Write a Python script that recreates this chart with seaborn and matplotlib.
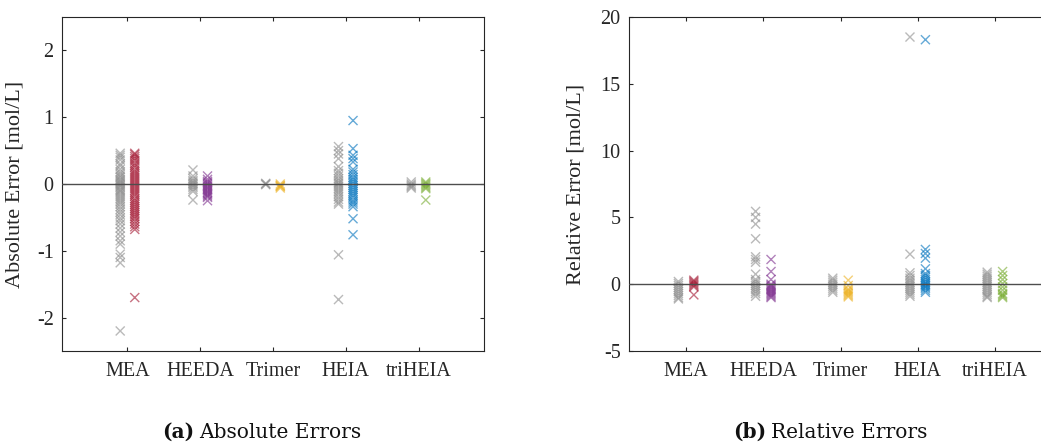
import matplotlib
matplotlib.use("Agg")
import matplotlib.pyplot as plt
import seaborn as sns
import pandas as pd

categories = ["MEA", "HEEDA", "Trimer", "HEIA", "triHEIA"]
model_colors = ["#A2142F", "#7E2F8E", "#EDB120", "#0072BD", "#77AC30"]
ref_color = "#8C8C8C"

# ---- (a) Absolute errors ----
abs_ref_MEA = [0.46, 0.43, 0.40, 0.36, 0.30, 0.27, 0.22, 0.18, 0.15, 0.12, 0.10, 0.07, 0.05, 0.03,
               0.01, -0.01, -0.03, -0.05, -0.08, -0.10, -0.12, -0.15, -0.18, -0.21, -0.24, -0.27,
               -0.30, -0.34, -0.38, -0.42, -0.46, -0.51, -0.55, -0.60, -0.66, -0.72, -0.78, -0.85,
               -0.90, -1.05, -1.10, -1.18, -2.20]
abs_mod_MEA = [0.46, 0.44, 0.41, 0.38, 0.35, 0.31, 0.28, 0.25, 0.21, 0.18, 0.15, 0.12, 0.09, 0.06,
               0.03, 0.0, -0.03, -0.06, -0.09, -0.12, -0.15, -0.18, -0.22, -0.25, -0.28, -0.31,
               -0.34, -0.37, -0.40, -0.43, -0.46, -0.49, -0.52, -0.56, -0.60, -0.64, -0.68, -1.70]
abs_ref_HEEDA = [0.21, 0.12, 0.08, 0.05, 0.03, 0.01, -0.01, -0.03, -0.05, -0.08, -0.11, -0.24]
abs_mod_HEEDA = [0.12, 0.07, 0.04, 0.02, 0.0, -0.02, -0.04, -0.06, -0.08, -0.10, -0.12, -0.14,
                 -0.16, -0.18, -0.20, -0.25]
abs_ref_Trimer = [0.0, 0.01, -0.01]
abs_mod_Trimer = [0.0, -0.02, -0.04, -0.06, -0.03]
abs_ref_HEIA = [0.56, 0.50, 0.45, 0.38, 0.26, 0.20, 0.16, 0.12, 0.08, 0.05, 0.02, 0.0, -0.03,
                -0.06, -0.09, -0.12, -0.15, -0.19, -0.23, -0.27, -0.30, -1.06, -1.73]
abs_mod_HEIA = [0.95, 0.53, 0.43, 0.38, 0.33, 0.22, 0.18, 0.14, 0.10, 0.07, 0.04, 0.01, -0.02,
                -0.05, -0.08, -0.11, -0.14, -0.17, -0.20, -0.24, -0.27, -0.30, -0.34, -0.52, -0.76]
abs_ref_triHEIA = [0.03, 0.0, -0.02, -0.04, -0.06]
abs_mod_triHEIA = [0.03, 0.01, -0.01, -0.03, -0.05, -0.07, -0.24]

# ---- (b) Relative errors ----
rel_ref_MEA = [0.2, 0.05, -0.1, -0.25, -0.4, -0.55, -0.7, -0.85, -1.0, -1.1]
rel_mod_MEA = [0.3, 0.2, 0.1, 0.0, -0.1, -0.2, -0.8]
rel_ref_HEEDA = [5.45, 5.0, 4.5, 3.4, 2.05, 1.85, 1.65, 0.75, 0.35, 0.2, 0.05, -0.1, -0.25, -0.4,
                 -0.55, -0.7, -0.9]
rel_mod_HEEDA = [1.85, 0.95, 0.35, 0.0, -0.1, -0.2, -0.3, -0.4, -0.5, -0.6, -0.7, -0.8, -0.9, -1.0]
rel_ref_Trimer = [0.45, 0.3, 0.15, 0.0, -0.15, -0.3, -0.45, -0.6]
rel_mod_Trimer = [0.3, -0.1, -0.35, -0.45, -0.55, -0.65, -0.75, -0.85, -0.95]
rel_ref_HEIA = [18.5, 2.25, 0.85, 0.65, 0.45, 0.3, 0.15, 0.0, -0.15, -0.3, -0.45, -0.6, -0.75, -0.9]
rel_mod_HEIA = [18.3, 2.6, 2.3, 1.95, 1.15, 0.8, 0.65, 0.5, 0.35, 0.2, 0.1, 0.0, -0.1, -0.2, -0.3,
                -0.45, -0.6]
rel_ref_triHEIA = [0.9, 0.75, 0.6, 0.45, 0.3, 0.15, 0.0, -0.15, -0.3, -0.45, -0.6, -0.75, -0.9, -1.0]
rel_mod_triHEIA = [0.95, 0.65, 0.35, 0.05, -0.2, -0.45, -0.7, -0.8, -0.9, -1.0]

abs_ref = [abs_ref_MEA, abs_ref_HEEDA, abs_ref_Trimer, abs_ref_HEIA, abs_ref_triHEIA]
abs_mod = [abs_mod_MEA, abs_mod_HEEDA, abs_mod_Trimer, abs_mod_HEIA, abs_mod_triHEIA]
rel_ref = [rel_ref_MEA, rel_ref_HEEDA, rel_ref_Trimer, rel_ref_HEIA, rel_ref_triHEIA]
rel_mod = [rel_mod_MEA, rel_mod_HEEDA, rel_mod_Trimer, rel_mod_HEIA, rel_mod_triHEIA]


def build(refs, mods):
    rows = []
    for cat, r, m in zip(categories, refs, mods):
        rows += [(cat, "ref", v) for v in r]
        rows += [(cat, "model", v) for v in m]
    return pd.DataFrame(rows, columns=["cat", "group", "value"])


sns.set_style("white")
plt.rcParams["font.family"] = ["Liberation Serif", "DejaVu Serif"]
plt.rcParams["axes.unicode_minus"] = False

W, H = 1041, 443
fig = plt.figure(figsize=(W / 100, H / 100), dpi=100)
ax1 = fig.add_axes([62 / W, (H - 351) / H, 422 / W, 334 / H])
ax2 = fig.add_axes([629 / W, (H - 351) / H, 423 / W, 334 / H])

panels = [
    (ax1, build(abs_ref, abs_mod), "Absolute Error [mol/L]", (-0.9, 4.9), (-2.5, 2.5),
     [-2, -1, 0, 1, 2], -0.09),
    (ax2, build(rel_ref, rel_mod), "Relative Error [mol/L]", (-0.74, 4.74), (-5, 20),
     [-5, 0, 5, 10, 15, 20], -0.104),
]

# two empty padding hue levels narrow the dodge to +-0.1 around each category
hue_order = ["pad_l", "ref", "model", "pad_r"]

for ax, df, ylabel, xlim, ylim, yticks, lx in panels:
    for cat, col in zip(categories, model_colors):
        sub = df[df["cat"] == cat]
        sns.stripplot(data=sub, x="cat", y="value", hue="group", order=categories,
                      hue_order=hue_order,
                      palette={"pad_l": "w", "ref": ref_color, "model": col, "pad_r": "w"},
                      dodge=True, jitter=False, marker="x", size=6.5,
                      linewidth=1.0, alpha=0.6, legend=False, ax=ax)
    ax.axhline(0, color="#4d4d4d", lw=1.0, zorder=4)
    ax.set_xlim(*xlim)
    ax.set_ylim(*ylim)
    ax.set_yticks(yticks)
    ax.set_yticklabels([str(t) for t in yticks])
    ax.set_xlabel("")
    ax.set_ylabel(ylabel, fontsize=16, color="#262626")
    ax.yaxis.set_label_coords(lx, 0.5)
    for s in ax.spines.values():
        s.set_visible(True)
        s.set_color("#262626")
        s.set_linewidth(0.8)
    ax.tick_params(axis="both", direction="in", length=3, width=0.8, colors="#262626",
                   labelsize=14.5, top=True, right=True, bottom=True, left=True)
    ax.tick_params(axis="x", pad=8)
    ax.tick_params(axis="y", pad=6)

# captions: bold panel letter followed by regular title
fig.canvas.draw()
renderer = fig.canvas.get_renderer()
base_y = (H - 438) / H
for x0, letter, title in [(162, "(a)", "Absolute Errors"), (733, "(b)", "Relative Errors")]:
    t1 = fig.text(x0 / W, base_y, letter, fontweight="bold", fontsize=14.5, ha="left",
                  va="baseline", family=["DejaVu Serif"], color="#111111")
    bb = t1.get_window_extent(renderer)
    fig.text((bb.x1 + 5) / W, base_y, title, fontsize=14.5, ha="left", va="baseline",
             family=["DejaVu Serif"], color="#111111")

fig.savefig("out.png", dpi=100)
